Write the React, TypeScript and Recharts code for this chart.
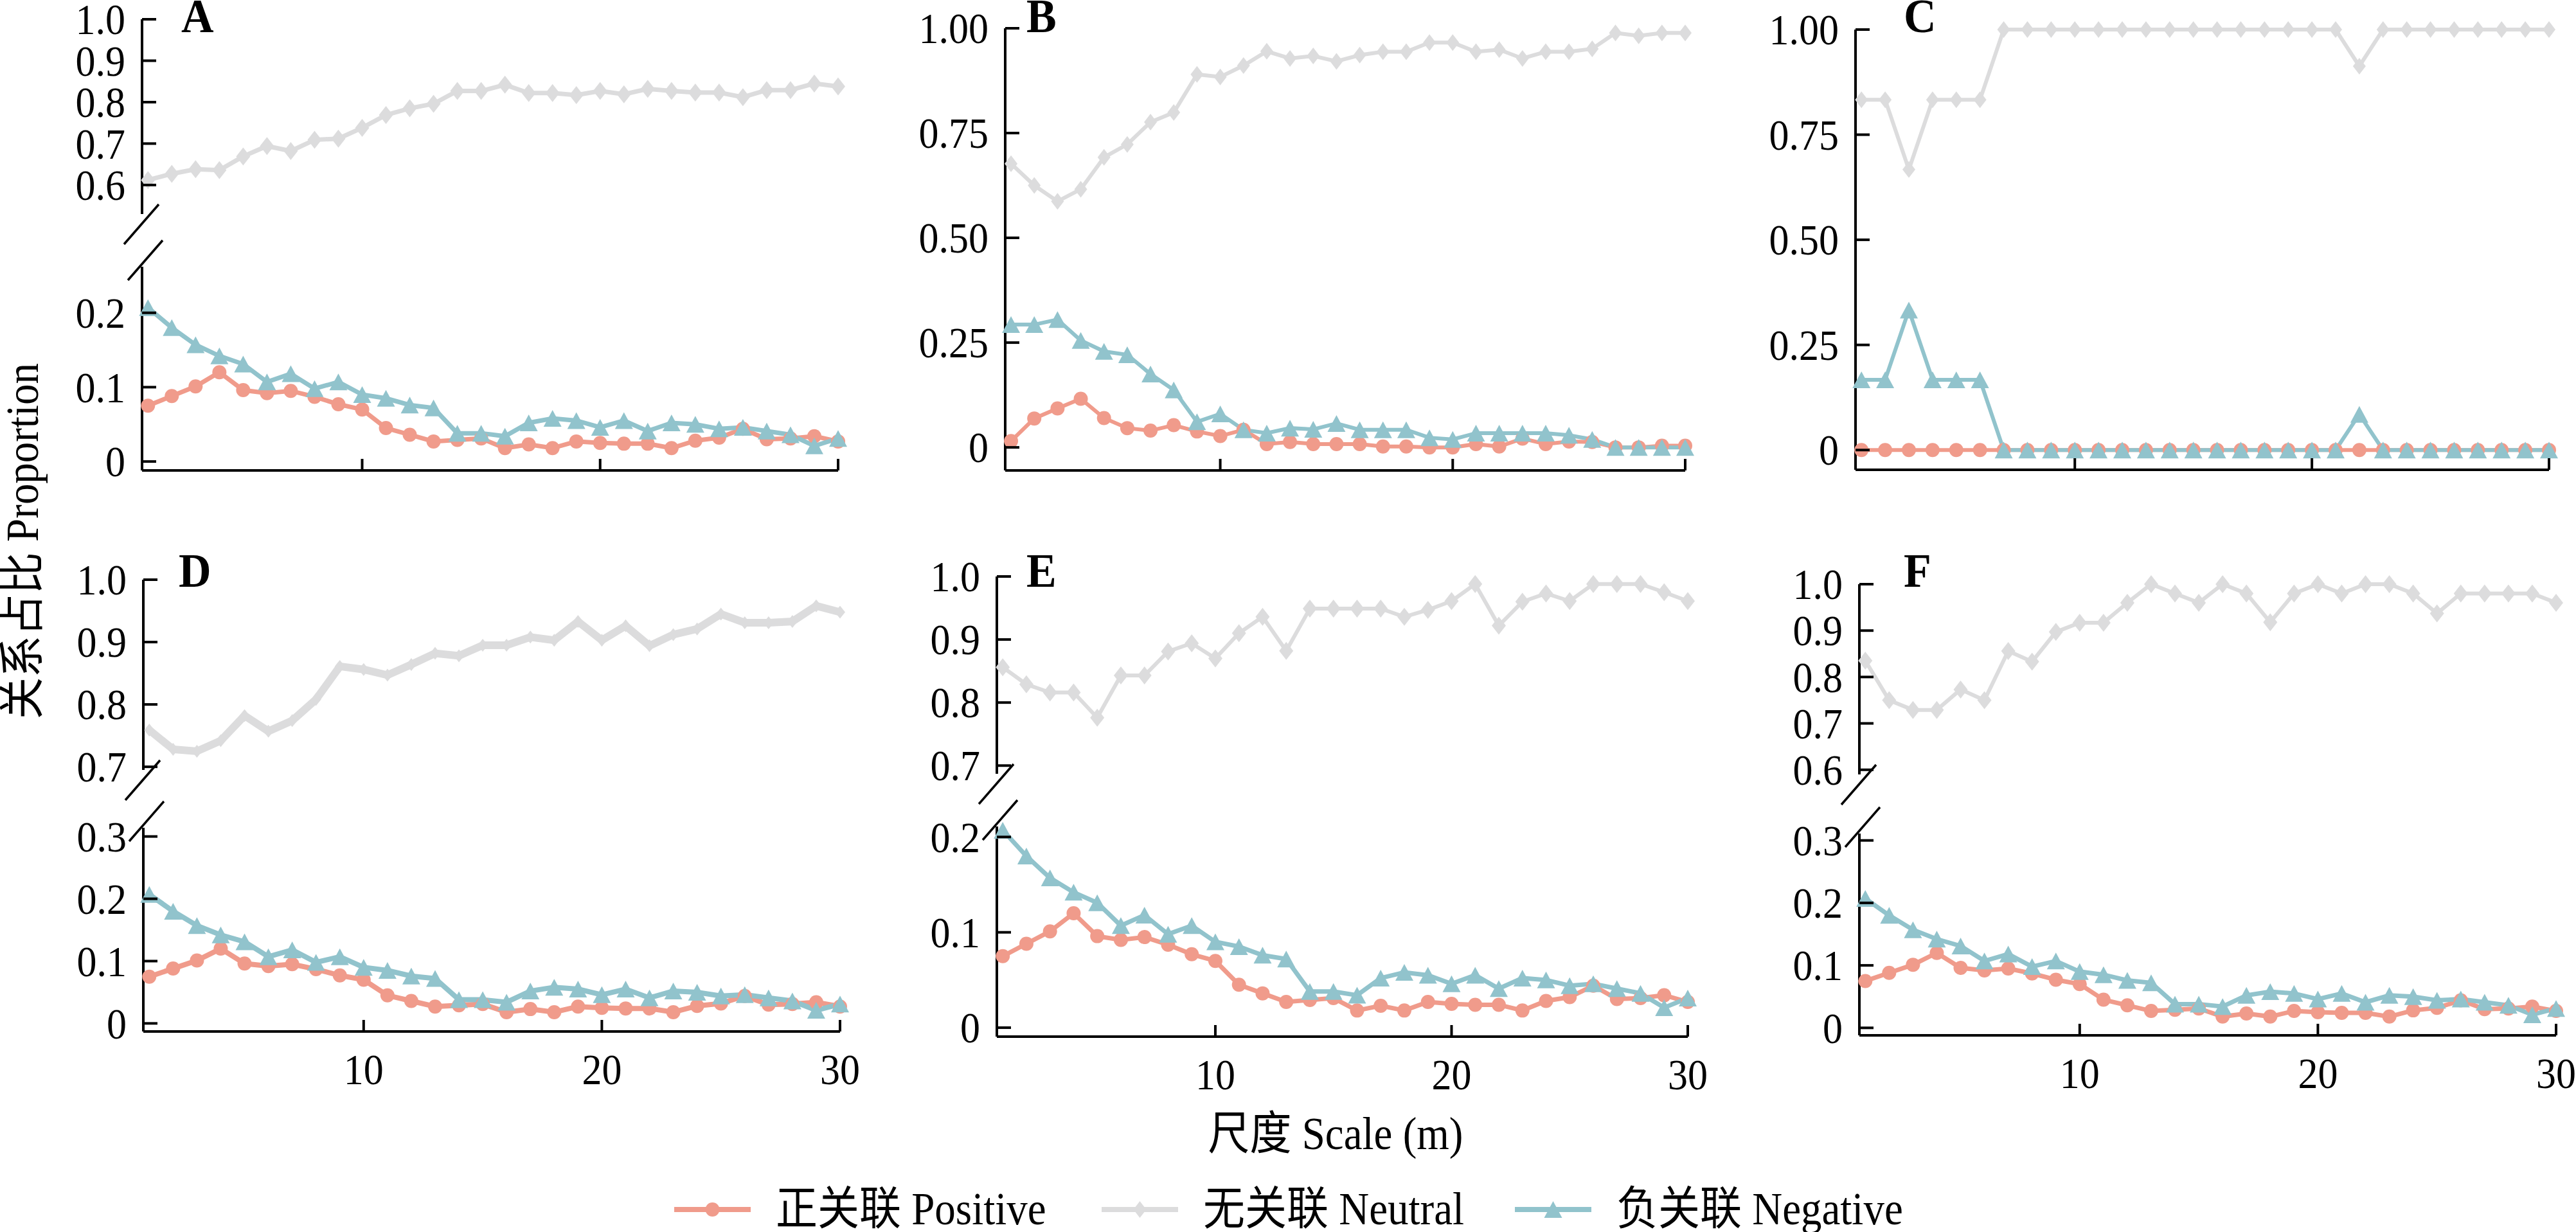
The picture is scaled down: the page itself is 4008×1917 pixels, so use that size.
import React from 'react';
import { LineChart, Line, XAxis, YAxis } from 'recharts';

// ---------- data ----------
const scaleM = [1, 2, 3, 4, 5, 6, 7, 8, 9, 10, 11, 12, 13, 14, 15, 16, 17, 18, 19, 20, 21, 22, 23, 24, 25, 26, 27, 28, 29, 30];

// positive / negative proportions are the same in panels A, D, E, F
const positiveADEF = [0.075, 0.088, 0.101, 0.120, 0.096, 0.092, 0.095, 0.087, 0.077, 0.070, 0.045, 0.036, 0.027, 0.029, 0.031, 0.018, 0.023, 0.018, 0.027, 0.025, 0.024, 0.024, 0.018, 0.028, 0.032, 0.044, 0.030, 0.031, 0.034, 0.027];
const negativeADEF = [0.207, 0.180, 0.157, 0.142, 0.131, 0.107, 0.118, 0.098, 0.107, 0.090, 0.085, 0.076, 0.072, 0.038, 0.038, 0.034, 0.052, 0.058, 0.055, 0.046, 0.055, 0.041, 0.052, 0.050, 0.044, 0.046, 0.041, 0.036, 0.021, 0.031];

const neutralA = [0.612, 0.627, 0.638, 0.636, 0.669, 0.694, 0.682, 0.709, 0.712, 0.738, 0.769, 0.785, 0.796, 0.827, 0.827, 0.842, 0.822, 0.822, 0.817, 0.827, 0.819, 0.832, 0.827, 0.823, 0.823, 0.812, 0.829, 0.829, 0.845, 0.838];

const neutralB = [0.677, 0.625, 0.587, 0.616, 0.692, 0.723, 0.776, 0.799, 0.890, 0.884, 0.911, 0.945, 0.928, 0.934, 0.921, 0.936, 0.944, 0.944, 0.966, 0.966, 0.944, 0.949, 0.928, 0.944, 0.944, 0.951, 0.989, 0.982, 0.989, 0.989];
const positiveB = [0.015, 0.069, 0.093, 0.116, 0.070, 0.046, 0.040, 0.053, 0.038, 0.027, 0.042, 0.008, 0.013, 0.008, 0.008, 0.008, 0.002, 0.002, 0.0, 0.0, 0.008, 0.002, 0.021, 0.008, 0.014, 0.013, 0.0, 0.0, 0.004, 0.004];
const negativeB = [0.293, 0.293, 0.305, 0.255, 0.229, 0.221, 0.175, 0.137, 0.061, 0.080, 0.042, 0.034, 0.046, 0.043, 0.057, 0.042, 0.042, 0.042, 0.023, 0.019, 0.034, 0.034, 0.034, 0.034, 0.029, 0.019, 0.0, 0.0, 0.0, 0.0];

const neutralC = [0.833, 0.833, 0.667, 0.833, 0.833, 0.833, 1, 1, 1, 1, 1, 1, 1, 1, 1, 1, 1, 1, 1, 1, 1, 0.913, 1, 1, 1, 1, 1, 1, 1, 1];
const positiveC = [0, 0, 0, 0, 0, 0, 0, 0, 0, 0, 0, 0, 0, 0, 0, 0, 0, 0, 0, 0, 0, 0, 0, 0, 0, 0, 0, 0, 0, 0];
const negativeC = [0.167, 0.167, 0.333, 0.167, 0.167, 0.167, 0, 0, 0, 0, 0, 0, 0, 0, 0, 0, 0, 0, 0, 0, 0, 0.085, 0, 0, 0, 0, 0, 0, 0, 0];

const neutralD = [0.759, 0.728, 0.725, 0.742, 0.782, 0.757, 0.774, 0.808, 0.861, 0.856, 0.847, 0.864, 0.882, 0.878, 0.895, 0.895, 0.908, 0.903, 0.933, 0.903, 0.926, 0.894, 0.912, 0.921, 0.945, 0.931, 0.931, 0.933, 0.958, 0.948];
const neutralE = [0.856, 0.829, 0.816, 0.816, 0.776, 0.843, 0.843, 0.881, 0.894, 0.870, 0.910, 0.936, 0.882, 0.949, 0.949, 0.949, 0.949, 0.936, 0.947, 0.961, 0.988, 0.922, 0.960, 0.973, 0.961, 0.988, 0.988, 0.988, 0.975, 0.961];
const neutralF = [0.835, 0.750, 0.729, 0.729, 0.773, 0.750, 0.856, 0.833, 0.897, 0.917, 0.917, 0.960, 1.0, 0.980, 0.960, 1.0, 0.980, 0.918, 0.980, 1.0, 0.980, 1.0, 1.0, 0.980, 0.937, 0.980, 0.980, 0.980, 0.980, 0.960];

const xTickValues = [10, 20, 30];
const ticksUpperA = [0.6, 0.7, 0.8, 0.9, 1.0];
const ticksLowerA = [0, 0.1, 0.2];
const ticksFull = [0, 0.25, 0.5, 0.75, 1.0];
const ticksUpperDE = [0.7, 0.8, 0.9, 1.0];
const ticksLower3 = [0, 0.1, 0.2, 0.3];
const ticksLowerE = [0, 0.1, 0.2];
const ticksUpperF = [0.6, 0.7, 0.8, 0.9, 1.0];

const panelLetters = ['A', 'B', 'C', 'D', 'E', 'F'];
const legendLabels = ['正关联 Positive', '无关联 Neutral', '负关联 Negative'];
const yTitle = '关系占比 Proportion';
const xTitle = '尺度 Scale (m)';

// ---------- styles ----------
const COLORS = { positive: '#F09B8B', neutral: '#DCDCDD', negative: '#91C3CC' };
const FONT = "'Liberation Serif', 'Times New Roman', 'Noto Sans CJK SC', serif";
const TICK_FS = 62;
const AXIS_W = 4;

type Key = 'positive' | 'neutral' | 'negative';

function rowsOf(pos: number[], neu: number[], neg: number[]) {
  return scaleM.map((s, i) => ({ scale: s, positive: pos[i], neutral: neu[i], negative: neg[i] }));
}

const circleDot = (r: number) => (props: any) => {
  const { cx, cy, index } = props;
  if (cx == null || cy == null) return <g key={`c${index}`} />;
  return <circle key={`c${index}`} cx={cx} cy={cy} r={r} fill={COLORS.positive} />;
};
const diamondDot = (hw: number, hh: number) => (props: any) => {
  const { cx, cy, index } = props;
  if (cx == null || cy == null) return <g key={`d${index}`} />;
  return <polygon key={`d${index}`} points={`${cx},${cy - hh} ${cx + hw},${cy} ${cx},${cy + hh} ${cx - hw},${cy}`} fill={COLORS.neutral} />;
};
const triangleDot = (hw: number, hh: number) => (props: any) => {
  const { cx, cy, index } = props;
  if (cx == null || cy == null) return <g key={`t${index}`} />;
  return <polygon key={`t${index}`} points={`${cx},${cy - hh} ${cx + hw},${cy + hh} ${cx - hw},${cy + hh}`} fill={COLORS.negative} />;
};

type SegLayout = { T: number; B: number; domain: [number, number]; ticks: number[] };
type SegProps = {
  rows: any[];
  keys: Key[];
  L: number;
  R: number;
  seg: SegLayout;
  decimals: number;
  showX: boolean;
  xLabels: boolean;
  neutralW: number;
  otherW: number;
  diamond: [number, number];
};

const Y_TICK_LEN = 22;
const Y_TICK_GAP = 26;
const X_TICK_LEN = 18;
const X_TICK_GAP = 34;

function fmt(v: number, d: number) {
  return v === 0 ? '0' : v.toFixed(d);
}

function Segment(p: SegProps) {
  const padL = 220;
  const padR = 60;
  const padT = 40;
  const padB = p.showX ? 110 : 40;
  const width = p.R - p.L + padL + padR;
  const height = p.seg.B - p.seg.T + padT + padB;

  const yTick = (props: any) => {
    const { x, y, payload } = props;
    const ax = x + Y_TICK_GAP;
    return (
      <g>
        <line x1={ax} x2={ax + Y_TICK_LEN} y1={y} y2={y} stroke="#000" strokeWidth={AXIS_W} />
        <text
          transform={`translate(${x},${y}) scale(1,1.1)`}
          textAnchor="end"
          dy="0.34em"
          fontSize={TICK_FS}
          fontFamily={FONT}
          fill="#000"
        >
          {fmt(payload.value, p.decimals)}
        </text>
      </g>
    );
  };
  const xTick = (props: any) => {
    const { x, y, payload } = props;
    const ay = y - X_TICK_GAP;
    return (
      <g>
        <line x1={x} x2={x} y1={ay} y2={ay - X_TICK_LEN} stroke="#000" strokeWidth={AXIS_W} />
        {p.xLabels ? (
          <text
            transform={`translate(${x},${y}) scale(1,1.1)`}
            textAnchor="middle"
            dy="0.71em"
            fontSize={TICK_FS}
            fontFamily={FONT}
            fill="#000"
          >
            {String(payload.value)}
          </text>
        ) : null}
      </g>
    );
  };

  return (
    <div style={{ position: 'absolute', left: p.L - padL, top: p.seg.T - padT }}>
      <LineChart
        width={width}
        height={height}
        data={p.rows}
        margin={{ top: padT, right: padR, left: 0, bottom: p.showX ? 0 : padB }}
      >
        <XAxis
          dataKey="scale"
          type="number"
          domain={[0.75, 30]}
          ticks={xTickValues}
          interval={0}
          hide={!p.showX}
          height={padB}
          axisLine={{ stroke: '#000', strokeWidth: AXIS_W }}
          tickLine={false}
          tickSize={0}
          tickMargin={X_TICK_GAP}
          tick={xTick}
        />
        <YAxis
          type="number"
          domain={p.seg.domain}
          ticks={p.seg.ticks}
          interval={0}
          width={padL}
          axisLine={{ stroke: '#000', strokeWidth: AXIS_W }}
          tickLine={false}
          tickSize={0}
          tickMargin={Y_TICK_GAP}
          tick={yTick}
        />
        {p.keys.includes('neutral') ? (
          <Line
            dataKey="neutral"
            stroke={COLORS.neutral}
            strokeWidth={p.neutralW}
            dot={diamondDot(p.diamond[0], p.diamond[1])}
            activeDot={false}
            isAnimationActive={false}
          />
        ) : null}
        {p.keys.includes('positive') ? (
          <Line
            dataKey="positive"
            stroke={COLORS.positive}
            strokeWidth={p.otherW}
            dot={circleDot(11)}
            activeDot={false}
            isAnimationActive={false}
          />
        ) : null}
        {p.keys.includes('negative') ? (
          <Line
            dataKey="negative"
            stroke={COLORS.negative}
            strokeWidth={p.otherW}
            dot={triangleDot(14, 13)}
            activeDot={false}
            isAnimationActive={false}
          />
        ) : null}
      </LineChart>
    </div>
  );
}

// ---------- layout ----------
type PanelLayout = {
  L: number;
  R: number;
  upper?: SegLayout;
  lower: SegLayout;
  decimals: number;
  xLabels: boolean;
  neutralW: number;
  otherW: number;
  diamond: [number, number];
  letter: [number, number];
};

const layouts: PanelLayout[] = [
  {
    L: 221, R: 1304,
    upper: { T: 30, B: 333, domain: [0.53, 1.0], ticks: ticksUpperA },
    lower: { T: 415, B: 732, domain: [-0.012, 0.262], ticks: ticksLowerA },
    decimals: 1, xLabels: false, neutralW: 7, otherW: 7, diamond: [11, 14], letter: [282, 50],
  },
  {
    L: 1564, R: 2622,
    lower: { T: 44, B: 732, domain: [-0.055, 1.0], ticks: ticksFull },
    decimals: 2, xLabels: false, neutralW: 6, otherW: 6, diamond: [10, 13], letter: [1597, 50],
  },
  {
    L: 2887, R: 3966,
    lower: { T: 46, B: 731, domain: [-0.047, 1.0], ticks: ticksFull },
    decimals: 2, xLabels: false, neutralW: 6, otherW: 6, diamond: [10, 13], letter: [2962, 50],
  },
  {
    L: 223, R: 1307,
    upper: { T: 902, B: 1198, domain: [0.695, 1.0], ticks: ticksUpperDE },
    lower: { T: 1288, B: 1605, domain: [-0.013, 0.314], ticks: ticksLower3 },
    decimals: 1, xLabels: true, neutralW: 12, otherW: 8, diamond: [8, 10], letter: [278, 913],
  },
  {
    L: 1551, R: 2626,
    upper: { T: 897, B: 1204, domain: [0.687, 1.0], ticks: ticksUpperDE },
    lower: { T: 1286, B: 1613, domain: [-0.0094, 0.211], ticks: ticksLowerE },
    decimals: 1, xLabels: true, neutralW: 6, otherW: 7, diamond: [11, 14], letter: [1597, 913],
  },
  {
    L: 2893, R: 3977,
    upper: { T: 909, B: 1205, domain: [0.59, 1.0], ticks: ticksUpperF },
    lower: { T: 1297, B: 1611, domain: [-0.012, 0.311], ticks: ticksLower3 },
    decimals: 1, xLabels: true, neutralW: 6, otherW: 7, diamond: [11, 14], letter: [2962, 913],
  },
];

const panelRows = [
  rowsOf(positiveADEF, neutralA, negativeADEF),
  rowsOf(positiveB, neutralB, negativeB),
  rowsOf(positiveC, neutralC, negativeC),
  rowsOf(positiveADEF, neutralD, negativeADEF),
  rowsOf(positiveADEF, neutralE, negativeADEF),
  rowsOf(positiveADEF, neutralF, negativeADEF),
];

const legendLayout = [
  { x: 1049, key: 'positive' as Key },
  { x: 1714, key: 'neutral' as Key },
  { x: 2357, key: 'negative' as Key },
];
const LEGEND_Y = 1882;
const HANDLE_LEN = 119;

function LegendMarker({ k, cx, cy }: { k: Key; cx: number; cy: number }) {
  if (k === 'positive') return <circle cx={cx} cy={cy} r={11} fill={COLORS.positive} />;
  if (k === 'neutral')
    return <polygon points={`${cx},${cy - 13} ${cx + 10},${cy} ${cx},${cy + 13} ${cx - 10},${cy}`} fill={COLORS.neutral} />;
  return <polygon points={`${cx},${cy - 13} ${cx + 14},${cy + 13} ${cx - 14},${cy + 13}`} fill={COLORS.negative} />;
}

export default function App() {
  return (
    <div
      style={{
        position: 'absolute',
        left: 0,
        top: 0,
        width: 4008,
        height: 1917,
        background: '#fff',
        overflow: 'hidden',
        fontFamily: FONT,
      }}
    >
      {layouts.map((lay, i) => (
        <React.Fragment key={panelLetters[i]}>
          {lay.upper ? (
            <Segment
              rows={panelRows[i]}
              keys={['neutral']}
              L={lay.L}
              R={lay.R}
              seg={lay.upper}
              decimals={lay.decimals}
              showX={false}
              xLabels={false}
              neutralW={lay.neutralW}
              otherW={lay.otherW}
              diamond={lay.diamond}
            />
          ) : null}
          <Segment
            rows={panelRows[i]}
            keys={lay.upper ? ['positive', 'negative'] : ['neutral', 'positive', 'negative']}
            L={lay.L}
            R={lay.R}
            seg={lay.lower}
            decimals={lay.decimals}
            showX={true}
            xLabels={lay.xLabels}
            neutralW={lay.neutralW}
            otherW={lay.otherW}
            diamond={lay.diamond}
          />
        </React.Fragment>
      ))}

      <svg
        width={4008}
        height={1917}
        style={{ position: 'absolute', left: 0, top: 0, pointerEvents: 'none' }}
      >
        {/* panel letters */}
        {layouts.map((lay, i) => (
          <text
            key={`L${i}`}
            transform={`translate(${lay.letter[0]},${lay.letter[1]}) scale(1,1.05)`}
            fontSize={70}
            fontWeight="bold"
            fontFamily={FONT}
            fill="#000"
          >
            {panelLetters[i]}
          </text>
        ))}

        {/* axis break marks */}
        {layouts.map((lay, i) =>
          lay.upper ? (
            <g key={`brk${i}`} stroke="#000" strokeWidth={3.5}>
              <line x1={lay.L - 1 - 27} y1={lay.upper.B + 16 + 31} x2={lay.L - 1 + 27} y2={lay.upper.B + 16 - 31} />
              <line x1={lay.L + 5 - 27} y1={lay.lower.T - 10 + 31} x2={lay.L + 5 + 27} y2={lay.lower.T - 10 - 31} />
            </g>
          ) : null
        )}

        {/* y title */}
        <text
          transform="translate(33,842) rotate(-90) scale(1,1.1)"
          textAnchor="middle"
          dy="0.36em"
          fontSize={65}
          fontFamily={FONT}
          fill="#000"
        >
          {yTitle}
        </text>

        {/* x title */}
        <text
          transform="translate(2078,1788) scale(1,1.1)"
          textAnchor="middle"
          fontSize={65}
          fontFamily={FONT}
          fill="#000"
        >
          {xTitle}
        </text>

        {/* legend */}
        {legendLayout.map((it, i) => (
          <g key={`lg${i}`}>
            <line
              x1={it.x}
              x2={it.x + HANDLE_LEN}
              y1={LEGEND_Y}
              y2={LEGEND_Y}
              stroke={COLORS[it.key]}
              strokeWidth={8}
            />
            <LegendMarker k={it.key} cx={it.x + HANDLE_LEN / 2} cy={LEGEND_Y} />
            <text
              transform={`translate(${it.x + HANDLE_LEN + 39},1905) scale(1,1.1)`}
              fontSize={65}
              fontFamily={FONT}
              fill="#000"
            >
              {legendLabels[i]}
            </text>
          </g>
        ))}
      </svg>
    </div>
  );
}
